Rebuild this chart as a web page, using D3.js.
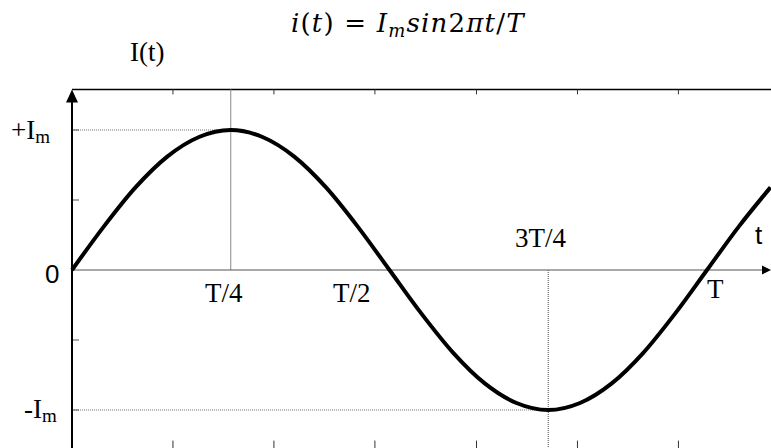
<!DOCTYPE html>
<html>
<head>
<meta charset="utf-8">
<script src="https://cdn.jsdelivr.net/npm/d3@7"></script>
<style>
  body { margin: 0; background: #fff; }
  .lbl { font-family: "Liberation Serif", "Times New Roman", serif; font-size: 27px; fill: #000; }
  .sans { font-family: "Liberation Sans", Arial, sans-serif; font-size: 26px; fill: #000; }
  .math { font-family: "DejaVu Serif", serif; font-size: 26px; letter-spacing: 1.2px; fill: #000; }
</style>
</head>
<body>
<div id="plot"></div>
<script>
const CANVAS_WIDTH  = 771;
const CANVAS_HEIGHT = 448;

// curve samples: t as a fraction of T, i as a fraction of Im
const T_VALUES = [0, 0.05, 0.10, 0.15, 0.20, 0.25, 0.30, 0.35, 0.40, 0.45, 0.50,
                  0.55, 0.60, 0.65, 0.70, 0.75, 0.80, 0.85, 0.90, 0.95, 1.00, 1.05, 1.10];
const I_VALUES = [0, 0.31, 0.59, 0.81, 0.95, 1.00, 0.95, 0.81, 0.59, 0.31, 0,
                  -0.31, -0.59, -0.81, -0.95, -1.00, -0.95, -0.81, -0.59, -0.31, 0, 0.31, 0.59];

// tick marks on the frame (fractions of T) and on the vertical axis (fractions of Im)
const FRAME_TICKS = [0.159, 0.318, 0.477, 0.637, 0.796, 0.955];
const Y_TICKS     = [1, 0.5, -0.5, -1];

const FRAME_TOP    = 1.29;
const FRAME_BOTTOM = -1.29;

var svg = d3.select("#plot")
            .append("svg")
            .attr("width", CANVAS_WIDTH)
            .attr("height", CANVAS_HEIGHT);

var xScale = d3.scaleLinear().domain([0, 1.10]).range([72, 770.5]);
var yScale = d3.scaleLinear().domain([-1, 1]).range([410, 130]);

var x0 = xScale(0), y0 = yScale(0);
var yTop = yScale(FRAME_TOP), yBot = yScale(FRAME_BOTTOM);

// top frame line with ticks
svg.append("line")
   .attr("x1", x0).attr("x2", CANVAS_WIDTH)
   .attr("y1", yTop).attr("y2", yTop)
   .attr("stroke", "#000").attr("stroke-width", 1.5);

FRAME_TICKS.forEach(function(t) {
    svg.append("line")
       .attr("x1", xScale(t)).attr("x2", xScale(t))
       .attr("y1", yTop).attr("y2", yTop + 5)
       .attr("stroke", "#333").attr("stroke-width", 1);
    svg.append("line")
       .attr("x1", xScale(t)).attr("x2", xScale(t))
       .attr("y1", yBot).attr("y2", yBot - 10)
       .attr("stroke", "#333").attr("stroke-width", 1);
});

// dotted guide lines at the peak and the trough
svg.append("line")
   .attr("x1", xScale(0.25)).attr("x2", xScale(0.25))
   .attr("y1", yTop).attr("y2", y0)
   .attr("stroke", "#888").attr("stroke-width", 1);
svg.append("line")
   .attr("x1", x0).attr("x2", xScale(0.25))
   .attr("y1", yScale(1)).attr("y2", yScale(1))
   .attr("stroke", "#777").attr("stroke-width", 1).attr("stroke-dasharray", "1,1");
svg.append("line")
   .attr("x1", xScale(0.75)).attr("x2", xScale(0.75))
   .attr("y1", y0).attr("y2", CANVAS_HEIGHT)
   .attr("stroke", "#555").attr("stroke-width", 1).attr("stroke-dasharray", "1,1");
svg.append("line")
   .attr("x1", x0).attr("x2", xScale(0.75))
   .attr("y1", yScale(-1)).attr("y2", yScale(-1))
   .attr("stroke", "#777").attr("stroke-width", 1).attr("stroke-dasharray", "1,1");

// horizontal time axis with arrow
svg.append("line")
   .attr("x1", x0).attr("x2", 764)
   .attr("y1", y0).attr("y2", y0)
   .attr("stroke", "#555").attr("stroke-width", 1.2);
svg.append("path")
   .attr("d", d3.line()([[762, y0 - 4.5], [771, y0], [762, y0 + 4.5]]) + "Z")
   .attr("fill", "#000");

// vertical axis with ticks and arrow
Y_TICKS.forEach(function(v) {
    svg.append("line")
       .attr("x1", x0).attr("x2", x0 + 7)
       .attr("y1", yScale(v)).attr("y2", yScale(v))
       .attr("stroke", "#555").attr("stroke-width", 1);
});
svg.append("line")
   .attr("x1", x0).attr("x2", x0)
   .attr("y1", CANVAS_HEIGHT).attr("y2", yTop + 10)
   .attr("stroke", "#000").attr("stroke-width", 2);
svg.append("path")
   .attr("d", d3.line()([[x0 - 6, yTop + 13], [x0, yTop], [x0 + 6, yTop + 13]]) + "Z")
   .attr("fill", "#000");

// the sine curve
var points = T_VALUES.map(function(t, i) { return [xScale(t), yScale(I_VALUES[i])]; });
svg.append("path")
   .attr("d", d3.line().curve(d3.curveCardinal.tension(0))(points))
   .attr("fill", "none")
   .attr("stroke", "#000")
   .attr("stroke-width", 4)
   .attr("stroke-linejoin", "round");

// labels
function label(x, y, txt, cls, anchor) {
    return svg.append("text")
              .attr("class", cls || "lbl")
              .attr("x", x).attr("y", y)
              .attr("text-anchor", anchor || "start")
              .text(txt);
}

label(130, 61, "I(t)");

var plus = label(11, 139, "+I");
plus.append("tspan").attr("font-size", "19px").attr("dy", 4).text("m");
var minus = label(24, 418, "-I");
minus.append("tspan").attr("font-size", "19px").attr("dy", 4).text("m");

label(45, 283, "0", "sans");
label(755, 244, "t", "sans");

label(205, 302, "T/4");
label(333, 302, "T/2");
label(515, 247, "3T/4");
label(707, 298, "T");

// formula title
var title = svg.append("text")
               .attr("class", "math")
               .attr("x", 291).attr("y", 32);
title.append("tspan").attr("font-style", "italic").text("i");
title.append("tspan").text("(");
title.append("tspan").attr("font-style", "italic").text("t");
title.append("tspan").text(") = ");
title.append("tspan").attr("font-style", "italic").text("I");
title.append("tspan").attr("font-style", "italic").attr("font-size", "18px").attr("dy", 5).text("m");
title.append("tspan").attr("font-style", "italic").attr("dy", -5).text("sin");
title.append("tspan").text("2");
title.append("tspan").attr("font-style", "italic").text("πt");
title.append("tspan").text("/");
title.append("tspan").attr("font-style", "italic").text("T");
</script>
</body>
</html>
